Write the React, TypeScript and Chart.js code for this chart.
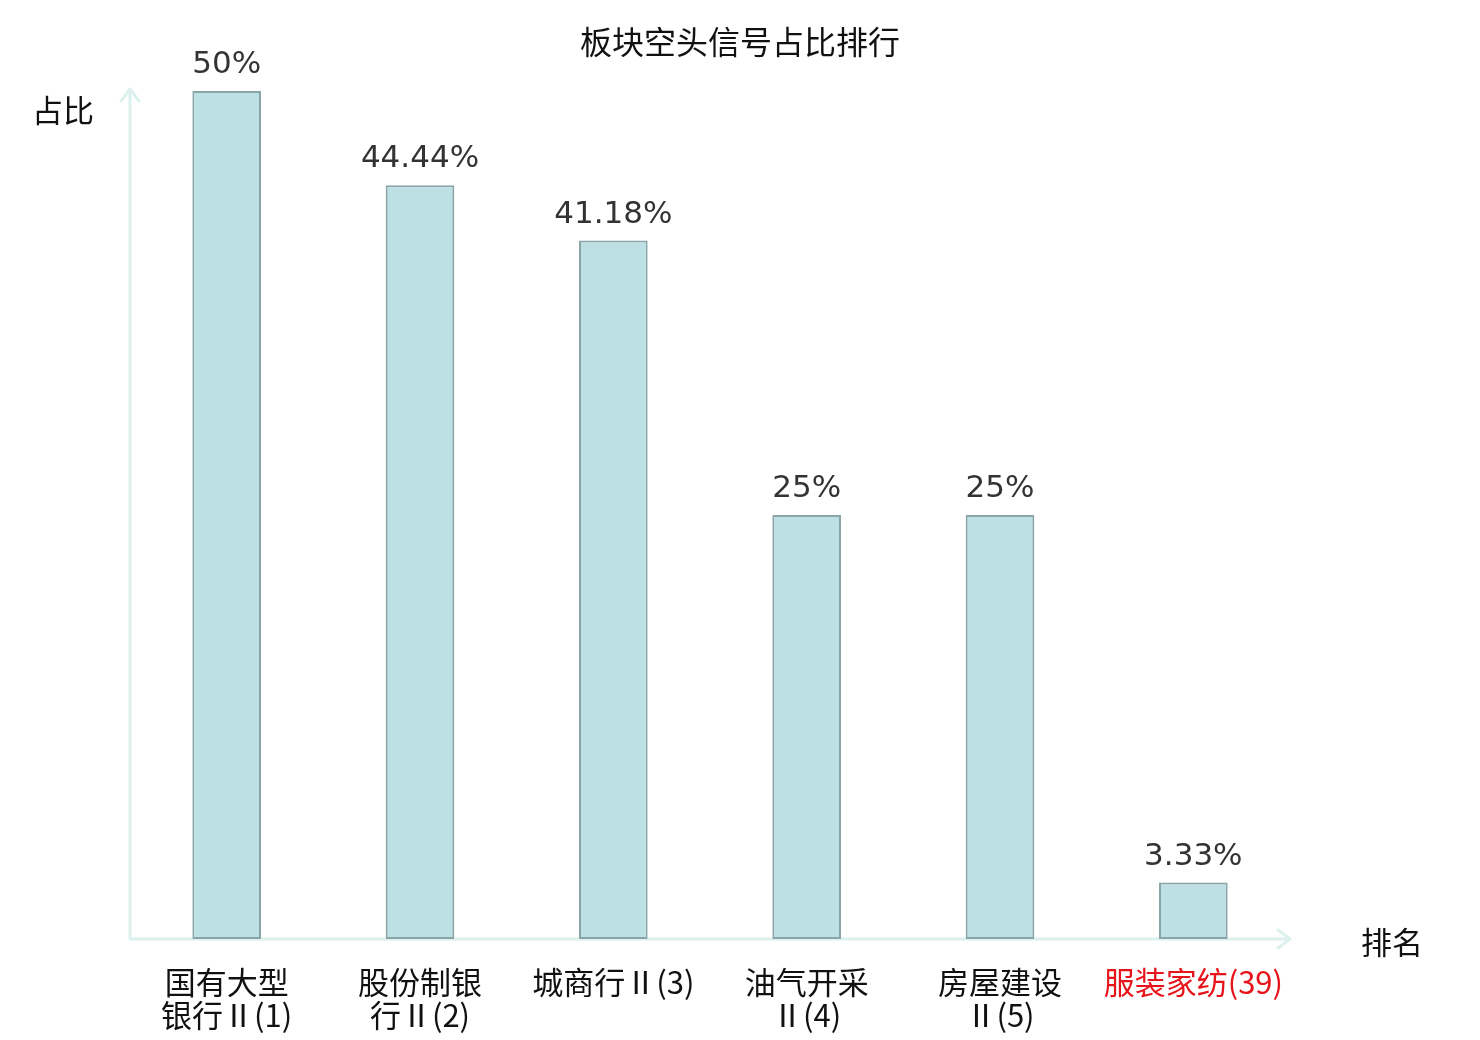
import { useEffect, useRef } from 'react'
import { Chart, registerables, type ChartConfiguration, type Plugin } from 'chart.js'

Chart.register(...registerables)

const title = '板块空头信号占比排行'
const yName = '占比'
const xName = '排名'
const categories: string[][] = [
  ['国有大型', '银行Ⅱ(1)'],
  ['股份制银', '行Ⅱ(2)'],
  ['城商行Ⅱ(3)'],
  ['油气开采', 'Ⅱ(4)'],
  ['房屋建设', 'Ⅱ(5)'],
  ['服装家纺(39)'],
]
const shares = [50, 44.44, 41.18, 25, 25, 3.33]
const shareLabels = ['50%', '44.44%', '41.18%', '25%', '25%', '3.33%']
const highlightIndex = 5

const AXIS_COLOR = '#dcf1ee'
const CJK = '"Noto Sans CJK SC", "Noto Sans", sans-serif'
const LATIN = '"DejaVu Sans", sans-serif'

const decorPlugin: Plugin<'bar'> = {
  id: 'decor',
  beforeDatasetsDraw(chart) {
    const { ctx, chartArea } = chart
    const { left, right, top, bottom } = chartArea
    ctx.save()
    ctx.strokeStyle = AXIS_COLOR
    ctx.lineWidth = 3
    ctx.lineCap = 'round'
    ctx.lineJoin = 'round'
    // y axis with arrow
    ctx.beginPath()
    ctx.moveTo(left, bottom)
    ctx.lineTo(left, top - 2)
    ctx.moveTo(left - 9, top + 10)
    ctx.lineTo(left, top - 2)
    ctx.lineTo(left + 9, top + 10)
    // x axis with arrow
    ctx.moveTo(left, bottom)
    ctx.lineTo(right, bottom)
    ctx.moveTo(right - 12, bottom - 9)
    ctx.lineTo(right, bottom)
    ctx.lineTo(right - 12, bottom + 9)
    ctx.stroke()
    ctx.restore()
  },
  afterDatasetsDraw(chart) {
    const { ctx, chartArea } = chart
    const meta = chart.getDatasetMeta(0)
    ctx.save()
    ctx.textAlign = 'center'

    // value labels
    ctx.fillStyle = '#333333'
    ctx.font = `31px ${LATIN}`
    ctx.textBaseline = 'alphabetic'
    meta.data.forEach((bar, i) => {
      ctx.fillText(shareLabels[i], bar.x, bar.y - 18)
    })

    // category labels
    ctx.font = `31px ${CJK}`
    ctx.textBaseline = 'middle'
    meta.data.forEach((bar, i) => {
      ctx.fillStyle = i === highlightIndex ? '#e8141b' : '#111111'
      categories[i].forEach((line, j) => {
        ctx.fillText(line, bar.x, chartArea.bottom + 43 + j * 33)
      })
    })

    // title and axis names
    ctx.fillStyle = '#111111'
    ctx.font = `32px ${CJK}`
    ctx.fillText(title, 740, 42)
    ctx.font = `31px ${CJK}`
    ctx.fillText(yName, 63, 110)
    ctx.fillText(xName, 1392, 942)
    ctx.restore()
  },
}

export default function App() {
  const canvasRef = useRef<HTMLCanvasElement | null>(null)
  const chartRef = useRef<Chart<'bar'> | null>(null)

  useEffect(() => {
    if (!canvasRef.current) return

    const config: ChartConfiguration<'bar'> = {
      type: 'bar',
      data: {
        labels: categories.map(c => c.join('')),
        datasets: [
          {
            data: shares,
            backgroundColor: '#bce0e3',
            borderColor: '#8aa5a7',
            borderWidth: 2,
            borderSkipped: false,
            barPercentage: 0.355,
            categoryPercentage: 1,
          },
        ],
      },
      options: {
        responsive: true,
        maintainAspectRatio: false,
        animation: false,
        layout: { padding: { left: 130, right: 190, top: 91, bottom: 101 } },
        scales: {
          x: { display: false },
          y: { display: false, min: 0, max: 50 },
        },
        plugins: {
          legend: { display: false },
          tooltip: { enabled: false },
        },
      },
      plugins: [decorPlugin],
    }

    chartRef.current = new Chart(canvasRef.current, config)
    return () => chartRef.current?.destroy()
  }, [])

  return (
    <div style={{ position: 'fixed', left: 0, top: 0, width: 1480, height: 1040, background: '#fff' }}>
      <canvas ref={canvasRef} role="img" aria-label="板块空头信号占比排行" />
    </div>
  )
}
